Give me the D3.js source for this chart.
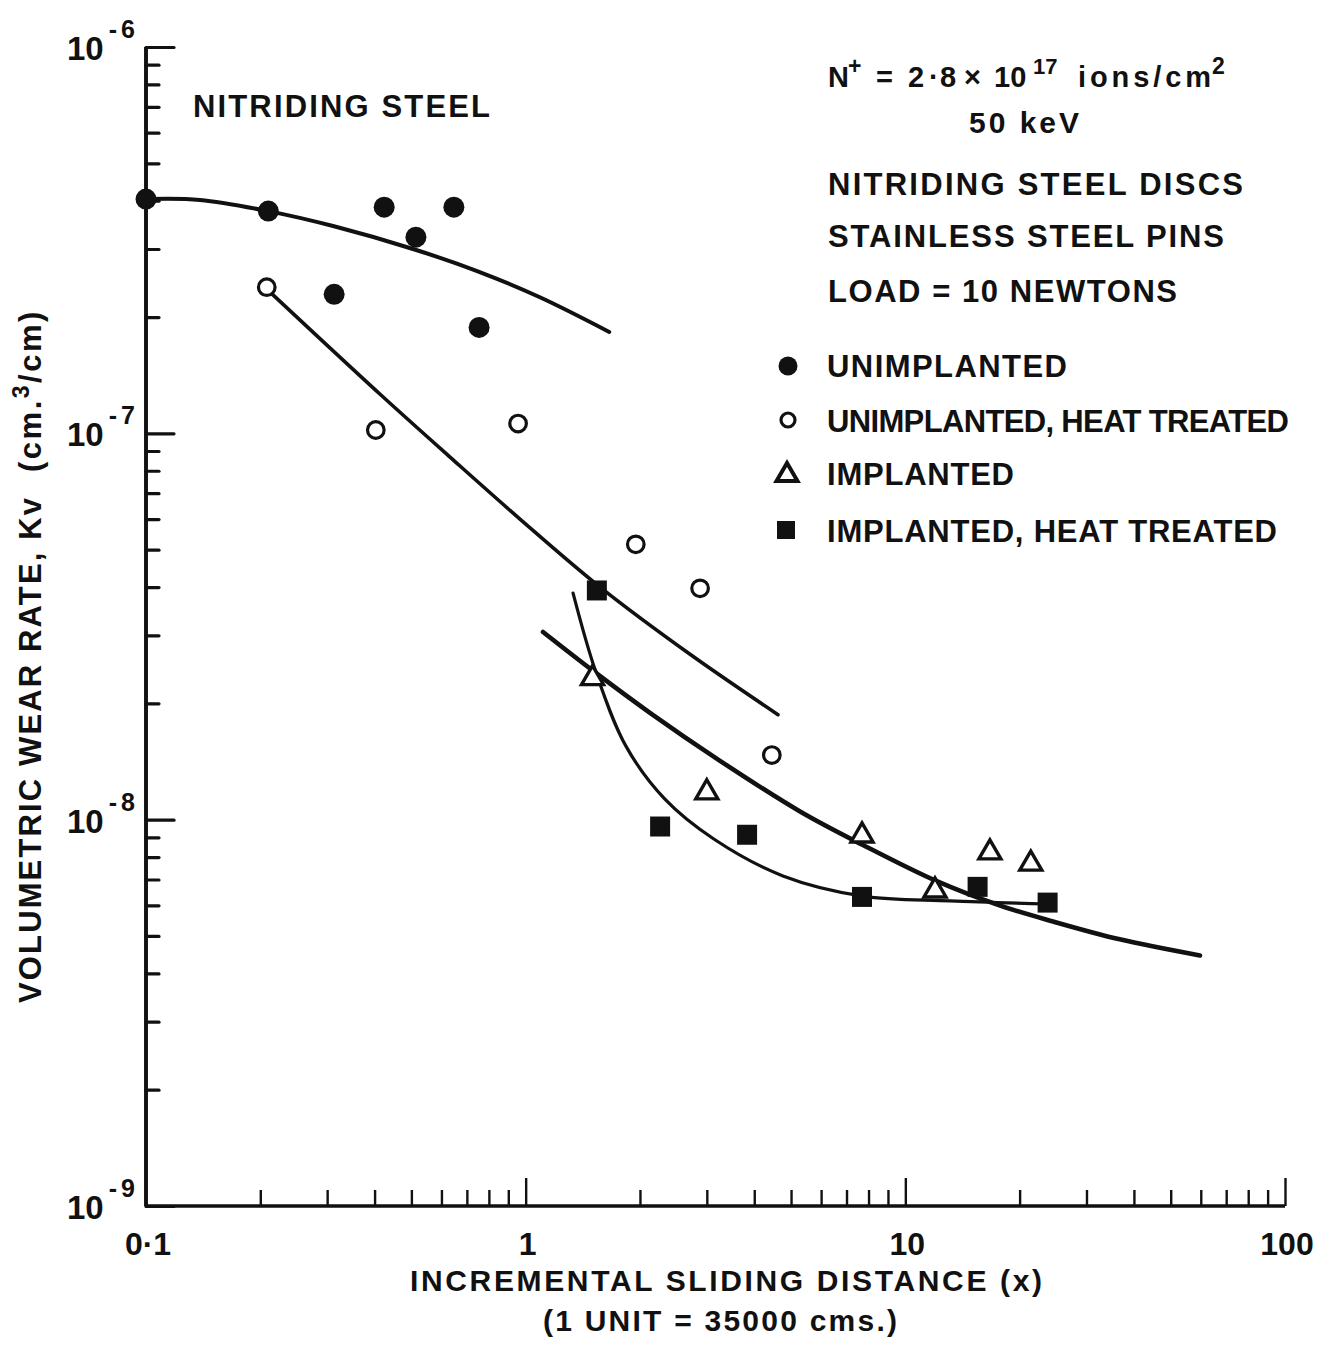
<!DOCTYPE html>
<html>
<head>
<meta charset="utf-8">
<script src="https://cdn.jsdelivr.net/npm/d3@7"></script>
<style>
  html, body { margin: 0; padding: 0; background: #fff; }
  svg { display: block; }
  text { font-family: "Liberation Sans", Arial, sans-serif; font-weight: bold; fill: #111; }
</style>
</head>
<body>
<svg id="chart" width="1336" height="1349"></svg>
<script>
// ---------------- data ----------------
const xMajorTicks = [0.1, 1, 10, 100];
const xTickLabels = ["0·1", "1", "10", "100"];
const yMajorTicks = [1e-6, 1e-7, 1e-8, 1e-9];
const yTickExponents = ["-6", "-7", "-8", "-9"];

// UNIMPLANTED (filled circles)
const unimplantedX = [0.1, 0.21, 0.313, 0.424, 0.514, 0.647, 0.754];
const unimplantedY = [4.04e-7, 3.76e-7, 2.29e-7, 3.85e-7, 3.22e-7, 3.85e-7, 1.88e-7];
// UNIMPLANTED, HEAT TREATED (open circles)
const unimpHTX = [0.208, 0.403, 0.955, 1.95, 2.88, 4.45];
const unimpHTY = [2.39e-7, 1.02e-7, 1.06e-7, 5.16e-8, 3.97e-8, 1.47e-8];
// IMPLANTED (open triangles)
const implantedX = [1.50, 3.0, 7.69, 11.97, 16.7, 21.4];
const implantedY = [2.35e-8, 1.19e-8, 9.2e-9, 6.63e-9, 8.32e-9, 7.78e-9];
// IMPLANTED, HEAT TREATED (filled squares)
const impHTX = [1.54, 2.26, 3.83, 7.69, 15.5, 23.7];
const impHTY = [3.92e-8, 9.6e-9, 9.14e-9, 6.31e-9, 6.7e-9, 6.1e-9];

// hand-drawn fit curves
const curveUnimpX = [0.1, 0.1387, 0.21, 0.311, 0.505, 0.745, 1.09, 1.66];
const curveUnimpY = [4.04e-7, 4.02e-7, 3.76e-7, 3.44e-7, 3.0e-7, 2.63e-7, 2.25e-7, 1.83e-7];
const curveUnimpHTX = [0.2122, 0.413, 0.632, 0.966, 1.57, 2.71, 4.62];
const curveUnimpHTY = [2.32e-7, 1.264e-7, 8.68e-8, 6.0e-8, 4.0e-8, 2.68e-8, 1.87e-8];
const curveImpX = [1.111, 1.503, 2.125, 3.25, 5.28, 7.73, 12.1, 17.7, 24.5, 36.7, 59.7];
const curveImpY = [3.06e-8, 2.43e-8, 1.89e-8, 1.42e-8, 1.05e-8, 8.6e-9, 6.93e-9, 6.0e-9, 5.45e-9, 4.9e-9, 4.45e-9];
const curveImpHTX = [1.333, 1.531, 1.837, 2.327, 3.13, 4.76, 7.73, 13.11, 23.75];
const curveImpHTY = [3.86e-8, 2.41e-8, 1.55e-8, 1.13e-8, 8.91e-9, 7.15e-9, 6.34e-9, 6.16e-9, 6.05e-9];

const legendLabels = ["UNIMPLANTED", "UNIMPLANTED, HEAT TREATED", "IMPLANTED", "IMPLANTED, HEAT TREATED"];
const infoLines = ["NITRIDING  STEEL  DISCS", "STAINLESS  STEEL  PINS", "LOAD  =  10  NEWTONS"];

// ---------------- drawing ----------------
const svg = d3.select("#chart");
const ink = "#111";

const x = d3.scaleLog().domain([0.1, 100]).range([146, 1285]);
const y = d3.scaleLog().domain([1e-9, 1e-6]).range([1206, 47]);

function minorTicks(lo, hi) {
  const out = [];
  for (let d = lo; d < hi; d *= 10) for (let k = 2; k <= 9; k++) out.push(d * k);
  return out;
}

// Y axis (ticks pointing inward / right)
const yAxisMajor = d3.axisLeft(y).tickValues(yMajorTicks).tickSize(-28).tickFormat("");
const yAxisMinor = d3.axisLeft(y).tickValues(minorTicks(1e-9, 1e-6)).tickSize(-13).tickFormat("");
const gy = svg.append("g").attr("transform", `translate(${x(0.1)},0)`);
gy.call(yAxisMinor);
gy.append("g").call(yAxisMajor);
gy.selectAll("path.domain").attr("stroke", ink).attr("stroke-width", 3.6)
  .attr("d", `M0,${y(1e-6)}V${y(1e-9)}`);
gy.selectAll(".tick line").attr("stroke", ink).attr("stroke-width", 3.2).attr("stroke-linecap", "round");

// X axis (ticks pointing up)
const xAxisMajor = d3.axisBottom(x).tickValues(xMajorTicks.slice(1)).tickSize(-28).tickFormat("");
const xAxisMinor = d3.axisBottom(x).tickValues(minorTicks(0.1, 100)).tickSize(-16).tickFormat("");
const gx = svg.append("g").attr("transform", `translate(0,${y(1e-9)})`);
gx.call(xAxisMinor);
gx.append("g").call(xAxisMajor);
gx.selectAll("path.domain").attr("stroke", ink).attr("stroke-width", 3.2)
  .attr("d", `M${x(0.1)},0H${x(100)}`);
gx.selectAll(".tick line").attr("stroke", ink).attr("stroke-width", 2.4);

// Y tick labels: 10^-n
const ylab = svg.append("g");
yMajorTicks.forEach((v, i) => {
  const t = ylab.append("text")
    .attr("x", 67).attr("y", y(v) + 13)
    .attr("font-size", 33);
  t.append("tspan").text("10");
  t.append("tspan").attr("dx", 5).attr("dy", -22).attr("font-size", 25)
    .attr("letter-spacing", 4).text(yTickExponents[i]);
});

// X tick labels
xMajorTicks.forEach((v, i) => {
  svg.append("text")
    .attr("x", x(v) + 2).attr("y", 1255)
    .attr("text-anchor", "middle").attr("font-size", 32)
    .text(xTickLabels[i]);
});

// Axis titles
svg.append("text").attr("x", 410).attr("y", 1291).attr("font-size", 30)
  .attr("textLength", 632).attr("lengthAdjust", "spacing")
  .text("INCREMENTAL SLIDING DISTANCE (x)");
svg.append("text").attr("x", 543).attr("y", 1331).attr("font-size", 30)
  .attr("textLength", 354).attr("lengthAdjust", "spacing")
  .text("(1 UNIT = 35000 cms.)");

const yt = svg.append("g").attr("transform", "translate(41,0) rotate(-90)");
yt.append("text").attr("x", -1003).attr("y", 0).attr("font-size", 31)
  .attr("textLength", 505).attr("lengthAdjust", "spacing")
  .text("VOLUMETRIC WEAR RATE, Kv");
const yt2 = yt.append("text").attr("x", -472).attr("y", 0).attr("font-size", 31)
  .attr("letter-spacing", 2.5);
yt2.append("tspan").text("(cm.");
yt2.append("tspan").attr("dy", -12).attr("font-size", 23).text("3");
yt2.append("tspan").attr("dy", 12).text("/cm)");

// Title inside plot
svg.append("text").attr("x", 193).attr("y", 117).attr("font-size", 31)
  .attr("textLength", 297).attr("lengthAdjust", "spacing")
  .text("NITRIDING  STEEL");

// Info block: N+ = 2·8 x 10^17 ions/cm^2
const n = svg.append("text").attr("y", 87).attr("font-size", 29);
n.append("tspan").attr("x", 828).text("N");
n.append("tspan").attr("x", 848).attr("dy", -13).attr("font-size", 23).text("+");
n.append("tspan").attr("x", 876).attr("dy", 13).text("=");
n.append("tspan").attr("x", 908).text("2");
n.append("tspan").attr("x", 929).text("·");
n.append("tspan").attr("x", 940).text("8");
n.append("tspan").attr("x", 964).text("×");
n.append("tspan").attr("x", 994).text("10");
n.append("tspan").attr("x", 1033).attr("dy", -13).attr("font-size", 22).text("17");
n.append("tspan").attr("x", 1078).attr("dy", 13).attr("textLength", 133).attr("lengthAdjust", "spacing").text("ions/cm");
n.append("tspan").attr("x", 1212).attr("dy", -13).attr("font-size", 23).text("2");

svg.append("text").attr("x", 969).attr("y", 133).attr("font-size", 30)
  .attr("textLength", 110).attr("lengthAdjust", "spacing").text("50  keV");

const infoY = [195, 247, 302];
const infoW = [415, 396, 349];
infoLines.forEach((s, i) => {
  svg.append("text").attr("x", 828).attr("y", infoY[i]).attr("font-size", 31)
    .attr("textLength", infoW[i]).attr("lengthAdjust", "spacing").text(s);
});

// Legend
const legY = [377, 432, 485, 542];
const legW = [240, 462, 187, 450];
legendLabels.forEach((s, i) => {
  svg.append("text").attr("x", 827).attr("y", legY[i]).attr("font-size", 31)
    .attr("textLength", legW[i]).attr("lengthAdjust", "spacing").text(s);
});
svg.append("circle").attr("cx", 788).attr("cy", 366).attr("r", 9.5).attr("fill", ink);
svg.append("circle").attr("cx", 788).attr("cy", 420).attr("r", 7).attr("fill", "none").attr("stroke", ink).attr("stroke-width", 3.2);
svg.append("path").attr("d", d3.symbol(d3.symbolTriangle, 190)()).attr("transform", "translate(787,475)")
  .attr("fill", "none").attr("stroke", ink).attr("stroke-width", 4).attr("stroke-linejoin", "miter");
svg.append("path").attr("d", d3.symbol(d3.symbolSquare, 324)()).attr("transform", "translate(786,530)").attr("fill", ink);

// Curves
const line = d3.line().x(d => x(d[0])).y(d => y(d[1])).curve(d3.curveCatmullRom.alpha(0.5));
function drawCurve(xs, ys, w) {
  svg.append("path").datum(xs.map((v, i) => [v, ys[i]])).attr("d", line)
    .attr("fill", "none").attr("stroke", ink).attr("stroke-width", w)
    .attr("stroke-linecap", "round").attr("stroke-linejoin", "round");
}
drawCurve(curveUnimpX, curveUnimpY, 4);
drawCurve(curveUnimpHTX, curveUnimpHTY, 3.6);
drawCurve(curveImpX, curveImpY, 4.6);
drawCurve(curveImpHTX, curveImpHTY, 3.2);

// Markers
svg.append("g").selectAll("circle").data(unimplantedX.map((v, i) => [v, unimplantedY[i]]))
  .join("circle").attr("cx", d => x(d[0])).attr("cy", d => y(d[1])).attr("r", 10.5).attr("fill", ink);
svg.append("g").selectAll("circle").data(unimpHTX.map((v, i) => [v, unimpHTY[i]]))
  .join("circle").attr("cx", d => x(d[0])).attr("cy", d => y(d[1])).attr("r", 8.3)
  .attr("fill", "#fff").attr("stroke", ink).attr("stroke-width", 3.2);
svg.append("g").selectAll("path").data(implantedX.map((v, i) => [v, implantedY[i]]))
  .join("path").attr("d", d3.symbol(d3.symbolTriangle, 210)())
  .attr("transform", d => `translate(${x(d[0])},${y(d[1]) + 2})`)
  .attr("fill", "#fff").attr("stroke", ink).attr("stroke-width", 3.4);
svg.append("g").selectAll("path").data(impHTX.map((v, i) => [v, impHTY[i]]))
  .join("path").attr("d", d3.symbol(d3.symbolSquare, 400)())
  .attr("transform", d => `translate(${x(d[0])},${y(d[1])})`).attr("fill", ink);
</script>
</body>
</html>
